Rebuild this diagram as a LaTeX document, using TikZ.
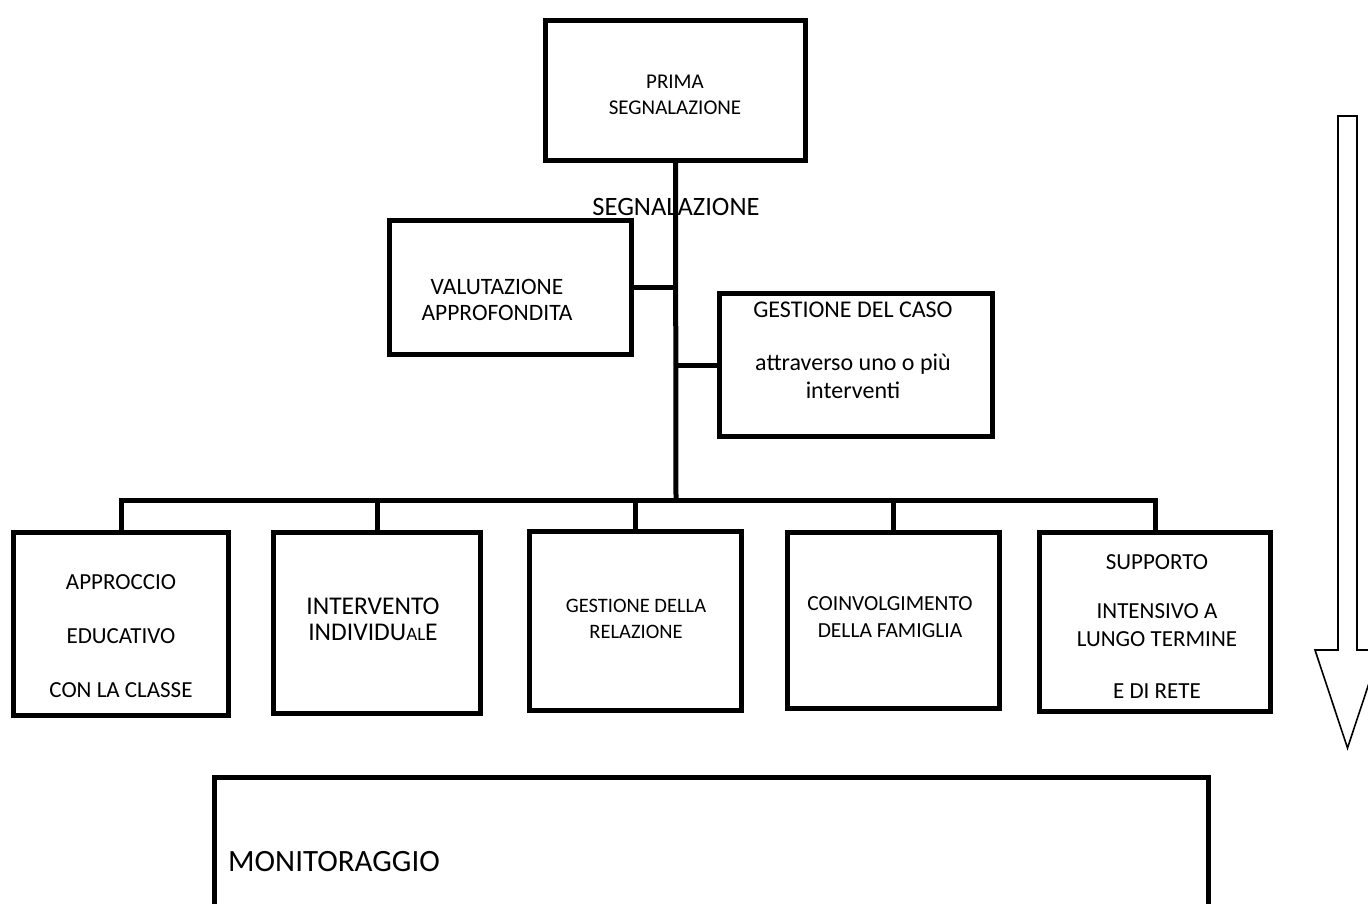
\documentclass[tikz,border=0pt]{standalone}
\usepackage{fontspec}
\setmainfont{Carlito}
\begin{document}
\begin{tikzpicture}
    [%%%%%%%%%%%%%%%%%%%%%%%%%%%%%%
        x=1pt, y=-1pt,
        box/.style={rectangle,draw=black,line width=5pt,inner sep=0pt},
        txt/.style={align=center,inner sep=0pt},
        link/.style={line width=5pt},
        downarrow/.style={draw=black,line width=1.6pt,line join=miter},
    ]%%%%%%%%%%%%%%%%%%%%%%%%%%%%%%
\useasboundingbox (0,0) rectangle (1368,903);
% boxes
\node[box, minimum width=260pt, minimum height=140pt] (prima) at (675.5,90.5) {};
\node[box, minimum width=242pt, minimum height=134pt] (valut) at (510.5,287.5) {};
\node[box, minimum width=273pt, minimum height=143pt] (gest) at (856,365) {};
\node[box, minimum width=215pt, minimum height=183pt] (b1) at (121,624) {};
\node[box, minimum width=207pt, minimum height=181pt] (b2) at (377,623) {};
\node[box, minimum width=212pt, minimum height=179pt] (b3) at (635.5,621) {};
\node[box, minimum width=212pt, minimum height=176pt] (b4) at (893.5,620.5) {};
\node[box, minimum width=231pt, minimum height=179pt] (b5) at (1155,622) {};
\node[box, minimum width=994pt, minimum height=135pt] (monit) at (711.5,845) {};
% tree lines
\coordinate (bus) at (676,500);
\draw[link] (prima.south) -- (bus);
\draw[link] (valut.east) -- (valut.east -| bus);
\draw[link] (gest.west) -- (gest.west -| bus);
\draw[link] (b1.north) -- (b1.north |- bus) -- (b5.north |- bus) -- (b5.north);
\draw[link] (b2.north) -- (b2.north |- bus);
\draw[link] (b3.north) -- (b3.north |- bus);
\draw[link] (b4.north) -- (b4.north |- bus);
% texts
\node[txt, font=\fontsize{21}{26}\selectfont] (tprima) at (675,95) {PRIMA\\SEGNALAZIONE};
\node[txt, font=\fontsize{26.5}{30}\selectfont] (tsegn) at (676,207) {SEGNALAZIONE};
\node[txt, font=\fontsize{23.5}{26}\selectfont] (tvalut) at (497,300) {VALUTAZIONE\\APPROFONDITA};
\node[txt, font=\fontsize{24}{28}\selectfont] (tgest) at (853,350) {GESTIONE DEL CASO\\[25pt]attraverso uno o più\\interventi};
\node[txt, font=\fontsize{23}{27}\selectfont] (tb1) at (121,636) {APPROCCIO\\[27pt]EDUCATIVO\\[27pt]CON LA CLASSE};
\node[txt, font=\fontsize{25.5}{26}\selectfont] (tb2) at (373,619) {INTERVENTO\\INDIVIDU{\fontsize{19}{19}\selectfont AL}E};
\node[txt, font=\fontsize{20.5}{26}\selectfont] (tb3) at (636,619) {GESTIONE DELLA\\RELAZIONE};
\node[txt, font=\fontsize{21.5}{27}\selectfont] (tb4) at (890,617.5) {COINVOLGIMENTO\\DELLA FAMIGLIA};
\node[txt, font=\fontsize{23}{28}\selectfont] (tb5) at (1157,627) {SUPPORTO\\[21pt]INTENSIVO A\\LUNGO TERMINE\\[24pt]E DI RETE};
\node[txt, font=\fontsize{31}{36}\selectfont, anchor=west] (tmonit) at (228,862) {MONITORAGGIO};
% time arrow
\draw[downarrow] (1338,116) -- (1357,116) -- (1357,650) -- (1380,650) -- (1347.5,748)
    -- (1315,650) -- (1338,650) -- cycle;
\end{tikzpicture}
\end{document}
